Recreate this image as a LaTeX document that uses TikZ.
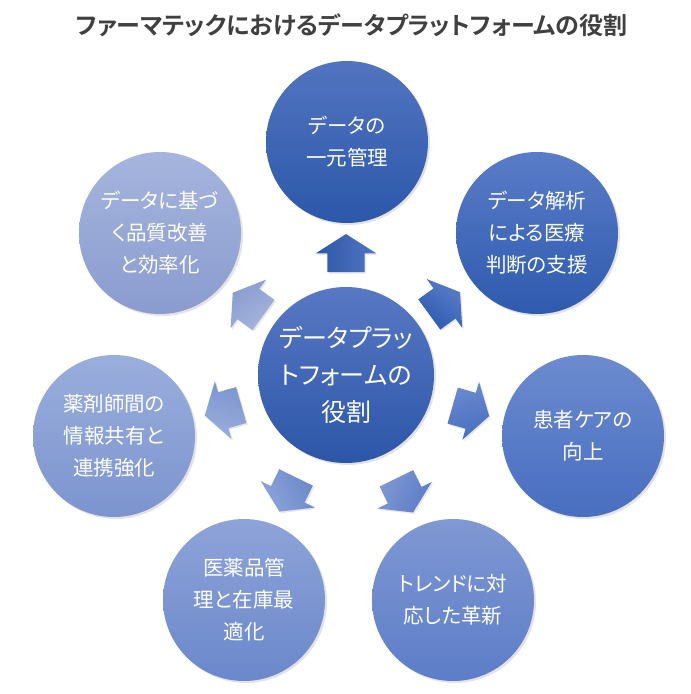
\documentclass[tikz,border=0pt]{standalone}
\usepackage{fontspec}
\setmainfont[RawFeature=+palt, BoldFont={Noto Sans CJK JP Bold}]{Noto Sans CJK JP}
\usetikzlibrary{shapes.arrows, shadows}

\definecolor{titlegray}{RGB}{64,64,64}
\definecolor{hubtop}{RGB}{88,120,196}
\definecolor{hubbot}{RGB}{44,86,168}
\definecolor{unifytop}{RGB}{82,116,192}
\definecolor{unifybot}{RGB}{44,88,170}
\definecolor{analysistop}{RGB}{90,124,200}
\definecolor{analysisbot}{RGB}{46,90,174}
\definecolor{caretop}{RGB}{108,139,207}
\definecolor{carebot}{RGB}{72,110,192}
\definecolor{trendtop}{RGB}{128,152,211}
\definecolor{trendbot}{RGB}{92,125,200}
\definecolor{stocktop}{RGB}{142,163,216}
\definecolor{stockbot}{RGB}{107,136,203}
\definecolor{sharetop}{RGB}{154,174,220}
\definecolor{sharebot}{RGB}{124,148,207}
\definecolor{qualitytop}{RGB}{166,181,221}
\definecolor{qualitybot}{RGB}{138,155,207}

\begin{document}
\begin{tikzpicture}[x=1pt, y=1pt,
    rolecircle/.style={circle, minimum size=162pt, inner sep=0pt, align=center, text=white,
        font=\fontsize{20.5}{32}\selectfont,
        drop shadow={opacity=0.22, shadow xshift=2pt, shadow yshift=-2pt}},
    hubcircle/.style={rolecircle, minimum size=176pt, font=\fontsize{25}{37}\selectfont},
    blockarrow/.style={single arrow, minimum height=38pt, minimum width=60pt,
        single arrow head extend=11.5pt, single arrow tip angle=115,
        inner xsep=0pt, inner ysep=18.5pt,
        drop shadow={opacity=0.18, shadow xshift=1.5pt, shadow yshift=-1.5pt}}
]
        \useasboundingbox (0,0) rectangle (691,-694);

        % Title
        \node[font=\bfseries\fontsize{24}{28}\selectfont, text=titlegray] (title) at (352,-25) {ファーマテックにおけるデータプラットフォームの役割};

        % Centre circle
        \node[hubcircle, top color=hubtop, bottom color=hubbot] (hub) at (346,-375) {データプラッ\\トフォームの\\役割};

        % Outer circles, clockwise from the top
        \node[rolecircle, top color=unifytop, bottom color=unifybot] (unify) at (347,-142) {データの\\一元管理};
        \node[rolecircle, top color=analysistop, bottom color=analysisbot] (analysis) at (537,-233) {データ解析\\による医療\\判断の支援};
        \node[rolecircle, top color=caretop, bottom color=carebot] (care) at (583,-436) {患者ケアの\\向上};
        \node[rolecircle, top color=trendtop, bottom color=trendbot] (trend) at (453,-600) {トレンドに対\\応した革新};
        \node[rolecircle, top color=stocktop, bottom color=stockbot] (stock) at (244,-600) {医薬品管\\理と在庫最\\適化};
        \node[rolecircle, top color=sharetop, bottom color=sharebot] (share) at (114,-436) {薬剤師間の\\情報共有と\\連携強化};
        \node[rolecircle, top color=qualitytop, bottom color=qualitybot] (quality) at (160,-233) {データに基づ\\く品質改善\\と効率化};

        % Block arrows pointing out of the centre
        \node[blockarrow, top color=unifytop, bottom color=unifybot, rotate=90, shading angle=-90] (toUnify) at ([shift={(90:116)}]hub.center) {};
        \node[blockarrow, top color=analysistop, bottom color=analysisbot, rotate=36, shading angle=-36] (toAnalysis) at ([shift={(36:116)}]hub.center) {};
        \node[blockarrow, top color=caretop, bottom color=carebot, rotate=-16, shading angle=16] (toCare) at ([shift={(-16:124)}]hub.center) {};
        \node[blockarrow, top color=trendtop, bottom color=trendbot, rotate=-64, shading angle=64] (toTrend) at ([shift={(-64:128)}]hub.center) {};
        \node[blockarrow, top color=stocktop, bottom color=stockbot, rotate=-116, shading angle=116] (toStock) at ([shift={(-116:127)}]hub.center) {};
        \node[blockarrow, top color=sharetop, bottom color=sharebot, rotate=-164, shading angle=164] (toShare) at ([shift={(-164:122)}]hub.center) {};
        \node[blockarrow, top color=qualitytop, bottom color=qualitybot, rotate=144, shading angle=-144] (toQuality) at ([shift={(144:115)}]hub.center) {};

    \end{tikzpicture}
\end{document}
